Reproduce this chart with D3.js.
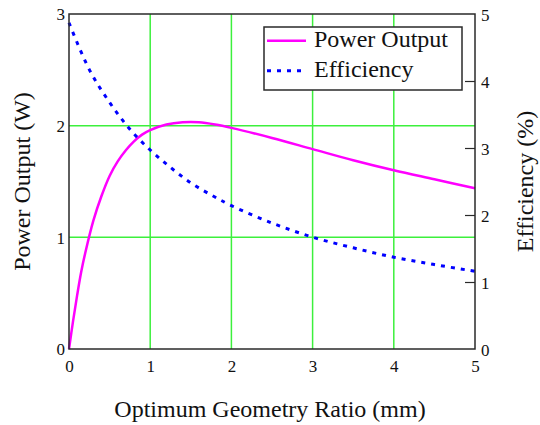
<!DOCTYPE html>
<html><head><meta charset="utf-8">
<script src="https://cdn.jsdelivr.net/npm/d3@7"></script>
<style>body{margin:0;background:#fff}svg{display:block}</style>
</head><body><svg id="c" width="540" height="425"></svg>
<script>
const xTicks = [0,1,2,3,4,5];
const yLeftTicks = [0,1,2,3];
const yRightTicks = [0,1,2,3,4,5];
const ratio = [0,0.05,0.1,0.15,0.2,0.3,0.4,0.5,0.6,0.7,0.8,0.9,1,1.2,1.4,1.6,1.8,2,2.5,3,3.5,4,4.5,5];
const power = [0,0.25,0.48,0.69,0.86,1.15,1.37,1.55,1.68,1.78,1.86,1.92,1.96,2.01,2.03,2.03,2.01,1.98,1.89,1.79,1.69,1.60,1.52,1.44];
const effRatio = [0,0.25,0.5,0.75,1,1.25,1.5,1.75,2,2.5,3,3.5,4,4.5,5];
const efficiency = [4.87,4.17,3.68,3.28,2.97,2.71,2.48,2.30,2.14,1.88,1.67,1.51,1.37,1.26,1.16];
const seriesNames = ["Power Output","Efficiency"];

const FONT = "Liberation Serif";
const svg = d3.select("#c");
const m = {l:69,r:475,t:14,b:349};
const x = d3.scaleLinear().domain([0,5]).range([m.l,m.r]);
const yL = d3.scaleLinear().domain([0,3]).range([m.b,m.t]);
const yR = d3.scaleLinear().domain([0,5]).range([m.b,m.t]);
const green = "#3cf03c";
const dash = "4,6";

// grid
svg.append("g").selectAll("line").data(xTicks.slice(1,-1)).join("line")
  .attr("x1",d=>x(d)).attr("x2",d=>x(d)).attr("y1",m.t).attr("y2",m.b)
  .attr("stroke",green).attr("stroke-width",1.5);
svg.append("g").selectAll("line").data(yLeftTicks.slice(1,-1)).join("line")
  .attr("y1",d=>yL(d)).attr("y2",d=>yL(d)).attr("x1",m.l).attr("x2",m.r)
  .attr("stroke",green).attr("stroke-width",1.5);

// curves
const lineP = d3.line().x((d,i)=>x(ratio[i])).y(d=>yL(d)).curve(d3.curveCatmullRom);
svg.append("path").attr("d",lineP(power)).attr("fill","none")
  .attr("stroke","#ff00ff").attr("stroke-width",2.5);
const lineE = d3.line().x((d,i)=>x(effRatio[i])).y(d=>yR(d)).curve(d3.curveCatmullRom);
svg.append("path").attr("d",lineE(efficiency)).attr("fill","none")
  .attr("stroke","#0000ff").attr("stroke-width",3).attr("stroke-dasharray",dash);

// frame
svg.append("rect").attr("x",m.l).attr("y",m.t).attr("width",m.r-m.l).attr("height",m.b-m.t)
  .attr("fill","none").attr("stroke","#2a2a2a").attr("stroke-width",1.5);

// axes
const ax = svg.append("g").attr("transform",`translate(0,${m.b})`)
  .call(d3.axisBottom(x).tickValues(xTicks).tickFormat(d3.format("d")).tickSize(0).tickPadding(11));
const al = svg.append("g").attr("transform",`translate(${m.l},0)`)
  .call(d3.axisLeft(yL).tickValues(yLeftTicks).tickFormat(d3.format("d")).tickSize(0).tickPadding(4));
const ar = svg.append("g").attr("transform",`translate(${m.r},0)`)
  .call(d3.axisRight(yR).tickValues(yRightTicks).tickFormat(d3.format("d")).tickSize(-10).tickPadding(6));
[ax,al,ar].forEach(g=>{
  g.attr("font-family",FONT).attr("font-size",17);
  g.select(".domain").remove();
  g.selectAll("text").attr("fill","#111");
  g.selectAll("line").attr("stroke","#2a2a2a").attr("stroke-width",1.2);
});
ar.selectAll(".tick").filter(d=>d===0||d===5).select("line").remove();
al.selectAll("text").attr("dy","0.35em");
ar.selectAll("text").attr("dy","0.4em");

// titles
function txt(sel){ return sel.attr("font-family",FONT).attr("font-size",24).attr("fill","#111"); }
txt(svg.append("text").attr("x",270).attr("y",417).attr("text-anchor","middle"))
  .text("Optimum Geometry Ratio (mm)");
txt(svg.append("text").attr("transform",`translate(30,${(m.t+m.b)/2}) rotate(-90)`).attr("text-anchor","middle"))
  .text("Power Output (W)");
txt(svg.append("text").attr("transform",`translate(533,${(m.t+m.b)/2}) rotate(-90)`).attr("text-anchor","middle"))
  .text("Efficiency (%)");

// legend
const lg = svg.append("g");
lg.append("rect").attr("x",264).attr("y",27).attr("width",198).attr("height",63)
  .attr("fill","#fff").attr("stroke","#2a2a2a").attr("stroke-width",1.5);
const styles = [{c:"#ff00ff",w:2.5,da:null},{c:"#0000ff",w:3,da:dash}];
seriesNames.forEach((n,i)=>{
  const yy = 40.7 + i*30;
  lg.append("line").attr("x1",267).attr("x2",306).attr("y1",yy).attr("y2",yy)
    .attr("stroke",styles[i].c).attr("stroke-width",styles[i].w).attr("stroke-dasharray",styles[i].da);
  txt(lg.append("text").attr("x",314).attr("y",yy+6.5)).text(n);
});
</script></body></html>
